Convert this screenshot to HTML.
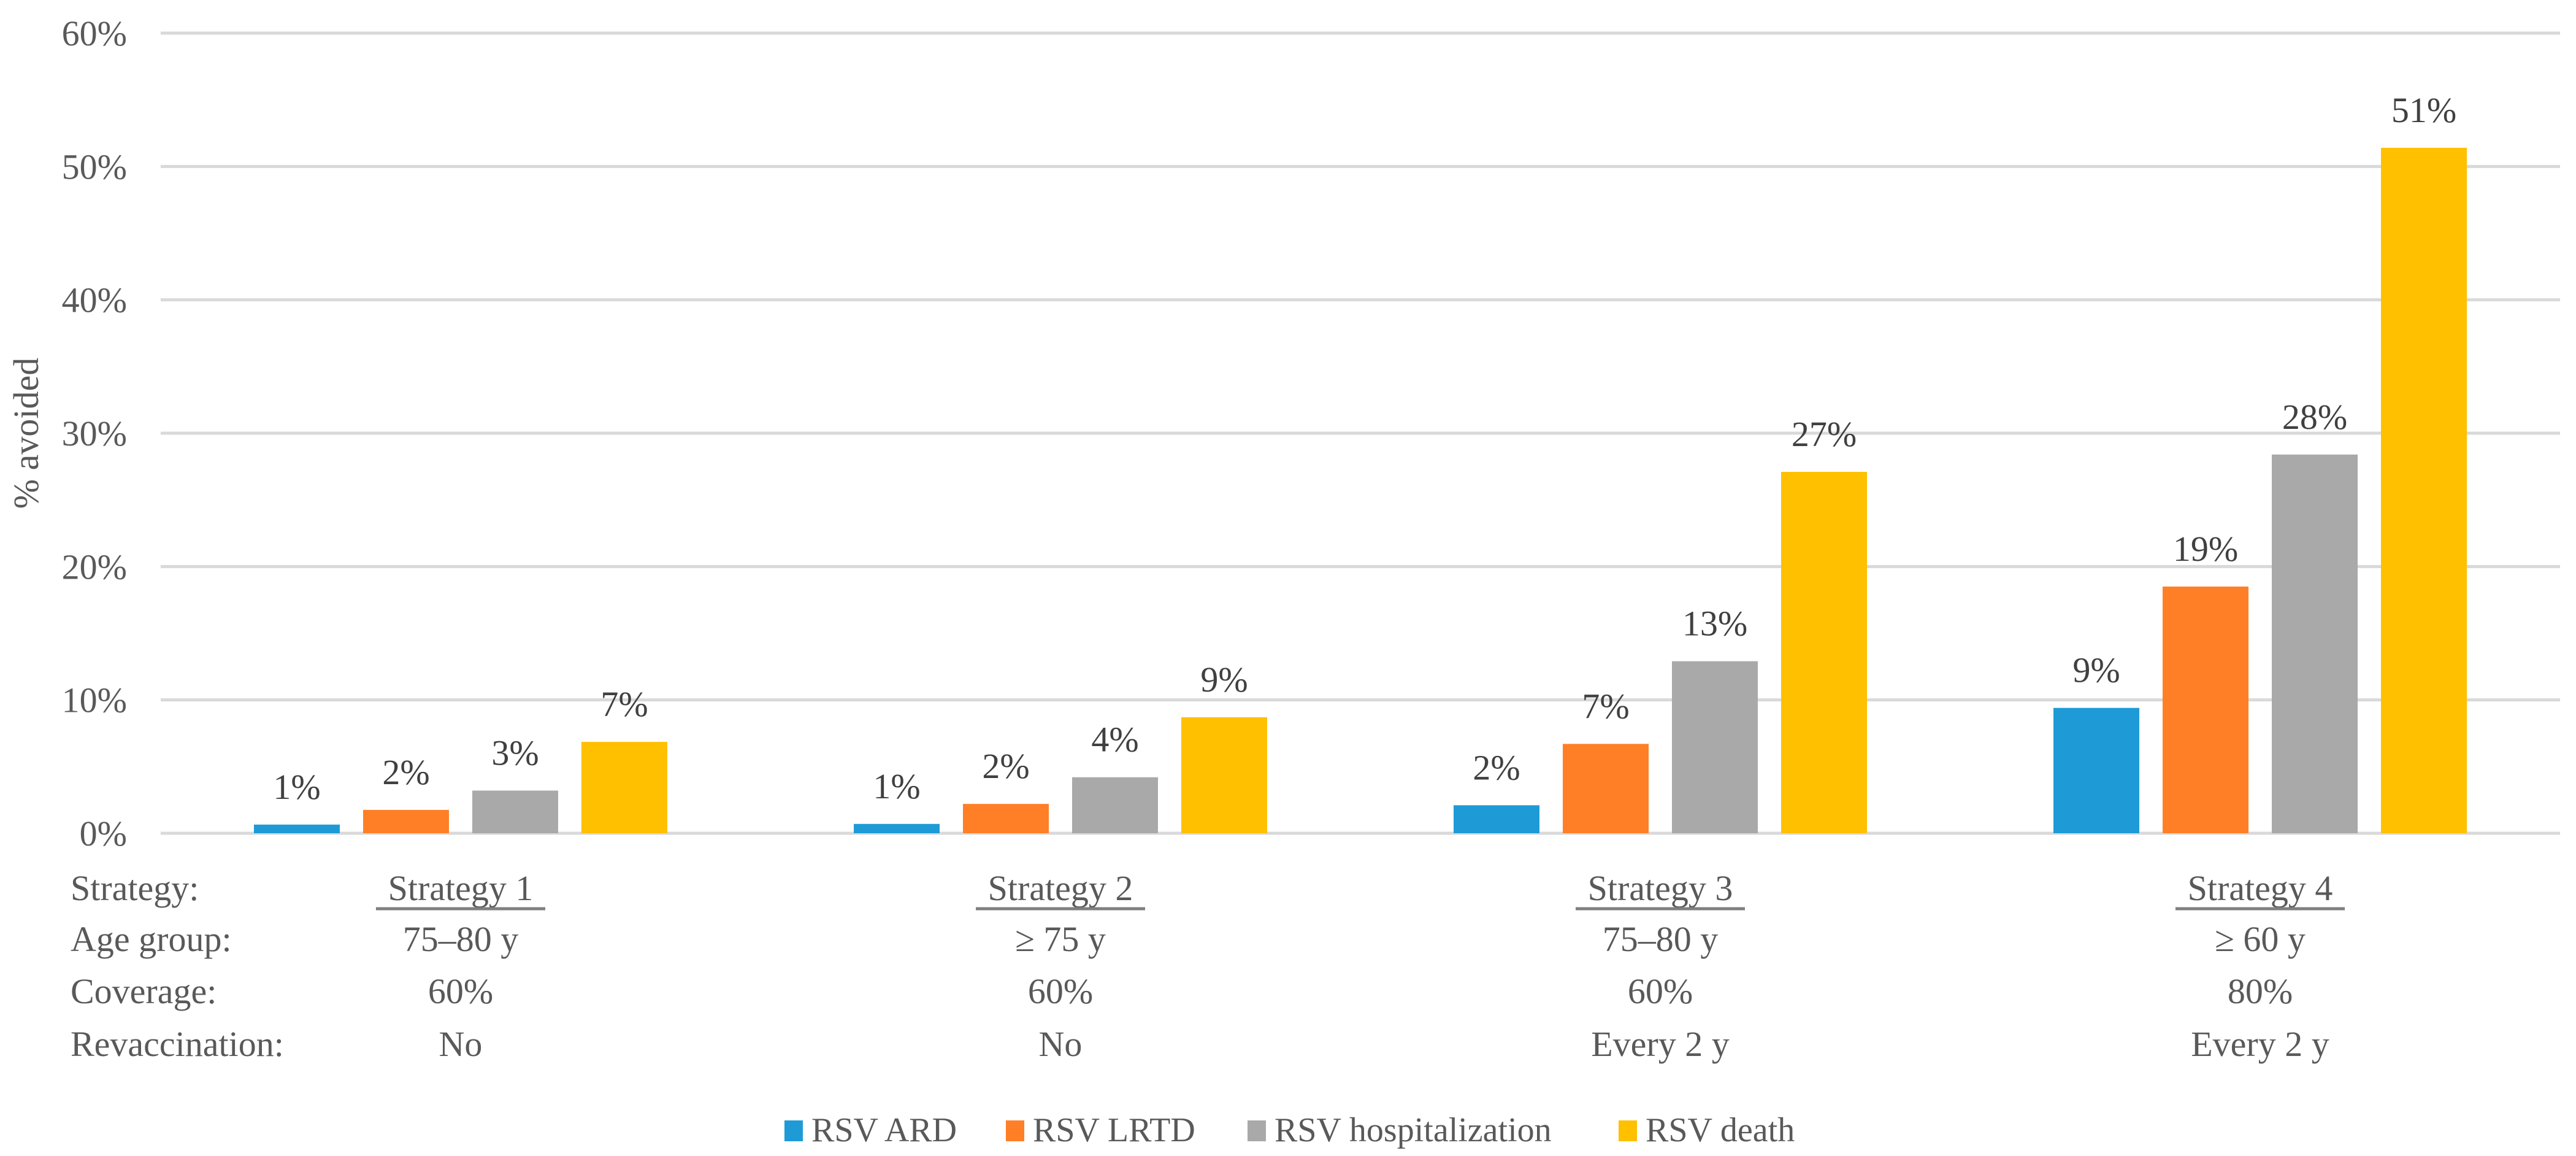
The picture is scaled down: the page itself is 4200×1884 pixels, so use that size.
<!DOCTYPE html>
<html><head><meta charset="utf-8"><style>
html,body{margin:0;padding:0;background:#fff;}
svg{display:block;font-family:"Liberation Serif",serif;}
</style></head><body>
<svg id="chart" width="4200" height="1884" viewBox="0 0 4200 1884" xmlns="http://www.w3.org/2000/svg">
<g id="grid"></g>
<g id="yticks"></g>
<text transform="translate(62,706) rotate(-90)" text-anchor="middle" font-size="58" fill="#595959">% avoided</text>
<g id="bars"></g>
<g id="labels"></g>
<g id="table"></g>
<g id="legend"></g>
</svg>
<script>
const categories = ["Strategy 1","Strategy 2","Strategy 3","Strategy 4"];
const ageGroups = ["75–80 y","≥ 75 y","75–80 y","≥ 60 y"];
const coverage = ["60%","60%","60%","80%"];
const revacc = ["No","No","Every 2 y","Every 2 y"];
const seriesNames = ["RSV ARD","RSV LRTD","RSV hospitalization","RSV death"];
const ard = [0.65, 0.7, 2.1, 9.4];
const lrtd = [1.75, 2.2, 6.7, 18.5];
const hosp = [3.2, 4.2, 12.9, 28.4];
const death = [6.85, 8.7, 27.1, 51.4];
const ardLabels = ["1%","1%","2%","9%"];
const lrtdLabels = ["2%","2%","7%","19%"];
const hospLabels = ["3%","4%","13%","28%"];
const deathLabels = ["7%","9%","27%","51%"];
const yTicks = [0,10,20,30,40,50,60];
const colors = ["#1E9BD7","#FF7F27","#A9A9A9","#FFC000"];

const NS = "http://www.w3.org/2000/svg";
const X0 = 262, X1 = 4174, Y0 = 1358, Y60 = 54;
const y = v => Y0 - (v/60)*(Y0-Y60);
const catW = (X1-X0)/categories.length;
const catC = i => X0 + catW*(i+0.5);
const barW = 140, step = 178;
const barX = (i,s) => catC(i) + (s-1.5)*step - barW/2;
function mk(tag, attrs, parent, txt){
  const e = document.createElementNS(NS, tag);
  for (const k in attrs) e.setAttribute(k, attrs[k]);
  if (txt !== undefined) e.textContent = txt;
  parent.appendChild(e); return e;
}
const G = id => document.getElementById(id);
yTicks.forEach(t => {
  const l = mk('line',{x1:X0,x2:X1,y1:y(t),y2:y(t),stroke:'#D9D9D9','stroke-width':5},G('grid'));
  
  
  const tx = mk('text',{x:207,y:y(t)+20,'text-anchor':'end','font-size':58,fill:'#595959'},G('yticks'),t+'%');
  
  
});
const series = [ard,lrtd,hosp,death];
const labs = [ardLabels,lrtdLabels,hospLabels,deathLabels];
categories.forEach((c,i) => {
  series.forEach((arr,s) => {
    const r = mk('rect',{x:barX(i,s),y:y(arr[i]),width:barW,height:Y0-y(arr[i]),fill:colors[s]},G('bars'));
    
    
    const t = mk('text',{x:barX(i,s)+barW/2,y:y(arr[i])-42,'text-anchor':'middle','font-size':58,fill:'#404040'},G('labels'),labs[s][i]);
    
    
  });
  const cx = catC(i);
  const st = mk('text',{x:cx,y:1467,'text-anchor':'middle','font-size':58,fill:'#595959'},G('table'),c);
  
  
  const ul = mk('line',{x1:cx-138,x2:cx+138,y1:1481,y2:1481,stroke:'#7F7F7F','stroke-width':5},G('table'));
  
  
  [[ageGroups,1550],[coverage,1635],[revacc,1721]].forEach(([arr,yy]) => {
    const t = mk('text',{x:cx,y:yy,'text-anchor':'middle','font-size':58,fill:'#595959'},G('table'),arr[i]);
    
    
  });
});
[["Strategy:",1467],["Age group:",1550],["Coverage:",1635],["Revaccination:",1721]].forEach(([s,yy]) => {
  const t = mk('text',{x:115,y:yy,'font-size':58,fill:'#595959'},G('table'),s);
  
  
});
const legX = [1279,1640,2034,2639];
seriesNames.forEach((n,s) => {
  const r = mk('rect',{x:legX[s],y:1826,width:30,height:34,fill:colors[s]},G('legend'));
  
  
  const t = mk('text',{x:legX[s]+44,y:1860,'font-size':56,fill:'#595959'},G('legend'),n);
  
  
});
</script>
</body></html>
